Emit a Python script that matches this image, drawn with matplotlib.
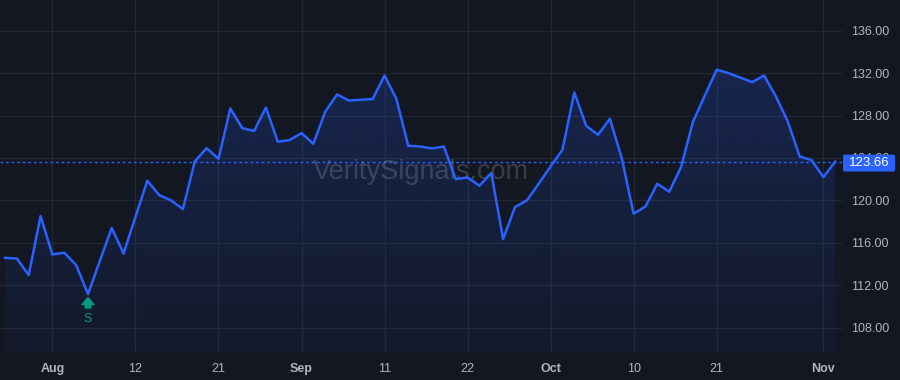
import matplotlib
matplotlib.use('Agg')
import matplotlib.pyplot as plt
from matplotlib.patches import FancyBboxPatch
from matplotlib.transforms import IdentityTransform
import numpy as np

# 配置参数
BG = '#131722'
LINE = '#2962FF'
GRID = '#232733'
TEXT = '#b2b5be'
SIGNAL = '#089981'

# 收盘价（按交易日顺序）
prices = [
    114.58, 114.52, 112.95, 118.52, 114.90, 115.06, 113.90, 111.16, 114.30, 117.40,
    114.99, 118.45, 121.85, 120.50, 120.00, 119.18, 123.67, 124.93, 123.92, 128.67,
    126.82, 126.54, 128.76, 125.53, 125.69, 126.35, 125.34, 128.36, 129.99, 129.42,
    129.49, 129.56, 131.78, 129.58, 125.15, 125.08, 124.90, 125.08, 122.01, 122.16,
    121.38, 122.58, 116.35, 119.37, 119.99, 121.58, 123.20, 124.77, 130.18, 127.04,
    126.19, 127.70, 123.99, 118.74, 119.42, 121.57, 120.81, 123.14, 127.39, 129.87,
    132.32, 132.01, 131.58, 131.16, 131.78, 129.80, 127.44, 124.14, 123.80, 122.20,
    123.66,
]
tick_idx = [4, 11, 18, 25, 32, 39, 46, 53, 60, 69]
tick_labels = ['Aug', '12', '21', 'Sep', '11', '22', 'Oct', '10', '21', 'Nov']
month_labels = {'Aug', 'Sep', 'Oct', 'Nov'}
signal_idx = 7
signal_text = 'S'
y_ticks = [108, 112, 116, 120, 124, 128, 132, 136]
watermark = 'VeritySignals.com'

x = np.arange(len(prices))
y = np.array(prices)
last = prices[-1]
YMIN, YMAX = 105.7, 138.9

fig = plt.figure(figsize=(9, 3.8), dpi=100, facecolor=BG)
ax = fig.add_axes([0, 28 / 380, 842 / 900, 352 / 380], facecolor=BG)

# 渐变填充
poly = ax.fill_between(x, y, YMIN, color='none', lw=0)
grad = np.zeros((256, 1, 4))
grad[..., :3] = matplotlib.colors.to_rgb(LINE)
grad[:, 0, 3] = np.linspace(0.24, 0.04, 256)
img = ax.imshow(grad, extent=[x[0], x[-1], YMIN, YMAX], aspect='auto',
                origin='upper', zorder=1, interpolation='bicubic')
img.set_clip_path(poly.get_paths()[0], transform=ax.transData)
ax.set_xlim(-0.42, 70.57)
ax.set_ylim(YMIN, YMAX)

ax.plot(x, y, color=LINE, lw=1.8, zorder=3)
ax.axhline(last, color=LINE, lw=1, ls=(0, (2, 2)), zorder=2)

# 网格与坐标轴
ax.set_xticks(tick_idx)
ax.set_xticklabels(tick_labels)
for lbl in ax.get_xticklabels():
    if lbl.get_text() in month_labels:
        lbl.set_fontweight('bold')
ax.yaxis.tick_right()
ax.set_yticks(y_ticks)
ax.set_yticklabels([f'{v:.2f}' for v in y_ticks])
ax.tick_params(axis='both', length=0, colors=TEXT, labelsize=9)
ax.tick_params(axis='x', pad=8)
ax.tick_params(axis='y', pad=6.5)
for lbl in ax.get_xticklabels() + ax.get_yticklabels():
    lbl.set_family('Liberation Sans')
ax.grid(True, color=GRID, lw=0.9, zorder=0)
ax.set_axisbelow(True)
for s in ax.spines.values():
    s.set_visible(False)

# 水印
ax.text(0.5, 0.51, watermark, transform=ax.transAxes, ha='center', va='center',
        fontsize=19.5, family='Liberation Sans', color='#9598a1', alpha=0.3, zorder=2)

# 买入信号
sy = prices[signal_idx]
ax.annotate('', xy=(signal_idx, sy), xytext=(0, -10), textcoords='offset points',
            arrowprops=dict(arrowstyle='simple,head_length=0.5,head_width=0.85,tail_width=0.4',
                            color=SIGNAL, shrinkA=0, shrinkB=2.5), zorder=4)
ax.annotate(signal_text, xy=(signal_idx, sy), xytext=(0, -13.5), textcoords='offset points',
            ha='center', va='top', color=SIGNAL, fontsize=9, family='Liberation Sans')

# 最新价格标签
fig.canvas.draw()
x0, yc = ax.transData.transform((ax.get_xlim()[1], last))
box = FancyBboxPatch((x0 + 1, yc - 10), 52, 17, boxstyle='round,pad=0,rounding_size=2',
                     fc=LINE, ec='none', transform=IdentityTransform(), zorder=10)
fig.add_artist(box)
fig.text((x0 + 27) / 900, (yc - 1.5) / 380, f'{last:.2f}', ha='center', va='center',
         color='white', fontsize=9.5, family='Liberation Sans', zorder=11)

fig.savefig('out.png', dpi=100, facecolor=BG)
